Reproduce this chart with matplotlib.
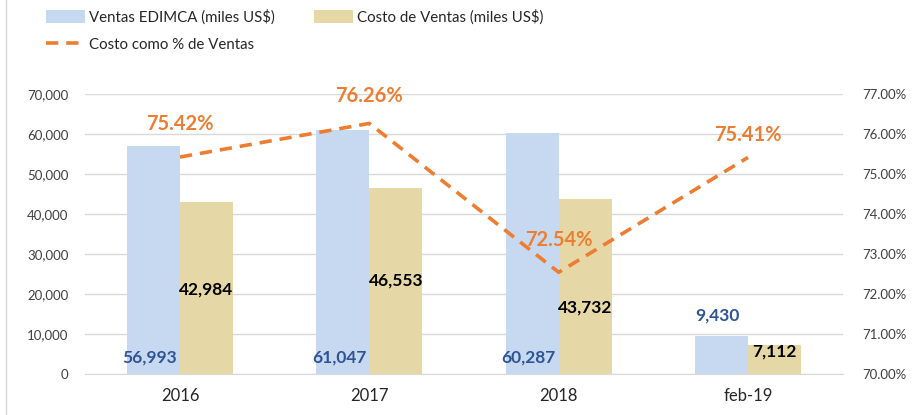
import matplotlib
matplotlib.use("Agg")
import matplotlib.pyplot as plt
import numpy as np
from matplotlib.ticker import FuncFormatter

# datos
periodos = ["2016", "2017", "2018", "feb-19"]
ventas = [56993, 61047, 60287, 9430]
costo = [42984, 46553, 43732, 7112]
pct = [75.42, 76.26, 72.54, 75.41]

# posiciones de las etiquetas (como en el original)
ventas_lbl_y = [4000, 4000, 4000, 14500]
costo_lbl_y = [21000, 23300, 16500, 5500]
pct_lbl_off = [24, 20, 23, 16]

plt.rcParams['font.family'] = ['Lato', 'DejaVu Sans']

c_ventas = "#C6D9F1"
c_costo = "#E5D8A6"
c_linea = "#ED7D31"
c_grid = "#D9D9D9"
c_txt = "#404040"

fig = plt.figure(figsize=(9.17, 4.15), dpi=100)
ax = fig.add_axes([0.093, 0.099, 0.826, 0.675])
ax2 = ax.twinx()

x = np.arange(len(periodos))
w = 0.28
b1 = ax.bar(x - w / 2, ventas, w, color=c_ventas, label="Ventas EDIMCA (miles US$)", zorder=2)
b2 = ax.bar(x + w / 2, costo, w, color=c_costo, label="Costo de Ventas (miles US$)", zorder=2)

ax.set_xlim(-0.5, 3.5)
ax.set_ylim(0, 70000)
ax.set_yticks(np.arange(0, 70001, 10000))
ax.yaxis.set_major_formatter(FuncFormatter(lambda v, p: f"{v:,.0f}"))
ax.set_xticks(x)
ax.set_xticklabels(periodos, fontsize=12, color="#262626")
ax.grid(axis="y", color=c_grid, lw=1, zorder=0)
ax.set_axisbelow(True)
for s in ["top", "left", "right"]:
    ax.spines[s].set_visible(False)
    ax2.spines[s].set_visible(False)
ax.spines["bottom"].set_color(c_grid)
ax2.spines["bottom"].set_visible(False)
ax.tick_params(axis="y", length=0, labelsize=9.5, labelcolor=c_txt, pad=12)
ax.tick_params(axis="x", length=0, pad=10)

ax2.set_ylim(70, 77)
ax2.set_yticks(np.arange(70, 77.01, 1))
ax2.yaxis.set_major_formatter(FuncFormatter(lambda v, p: f"{v:.2f}%"))
ax2.tick_params(axis="y", length=0, labelsize=9.5, labelcolor=c_txt, pad=14)
ln, = ax2.plot(x, pct, color=c_linea, ls=(0, (3.4, 2.2)), lw=2.6,
               label="Costo como % de Ventas", zorder=3)

for i in range(len(periodos)):
    ax.text(x[i] - w / 2 - 0.02, ventas_lbl_y[i], f"{ventas[i]:,}", ha="center", va="center",
            fontsize=12.5, fontweight="bold", color="#2F5496", zorder=4)
    ax.text(x[i] + w / 2, costo_lbl_y[i], f"{costo[i]:,}", ha="center", va="center",
            fontsize=12.5, fontweight="bold", color="black", zorder=4)
    ax2.annotate(f"{pct[i]:.2f}%", (x[i], pct[i]), xytext=(0, pct_lbl_off[i]),
                 textcoords="offset points", ha="center", va="center",
                 fontsize=14.5, fontweight="bold", color=c_linea, zorder=5)

fig.legend(handles=[b1, ln, b2], loc="upper left", bbox_to_anchor=(0.035, 1.01),
           ncol=2, frameon=False, fontsize=10.8,
           handlelength=2.6, handleheight=0.9,
           columnspacing=2.6, handletextpad=0.3, labelspacing=0.85,
           labelcolor="#262626")

fig.add_artist(plt.Line2D([0.006, 0.006], [0, 1], color=c_grid, lw=1))

fig.savefig("out.png", dpi=100)
